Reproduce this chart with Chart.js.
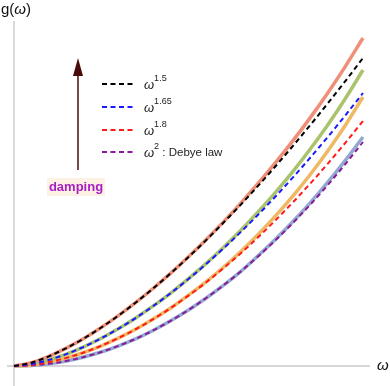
<!DOCTYPE html>
<html>
<head>
<meta charset="utf-8">
<script src="https://cdn.jsdelivr.net/npm/chart.js@4"></script>
<style>
  body { margin: 0; background: #fff; }
  canvas { display: block; }
</style>
</head>
<body>
<canvas id="chart" width="390" height="386"></canvas>
<script>
// frequency grid
const omega = [0, 0.05, 0.1, 0.15, 0.2, 0.25, 0.3, 0.35, 0.4, 0.45, 0.5,
  0.55, 0.6, 0.65, 0.7, 0.75, 0.8, 0.85, 0.9, 0.95, 1];

// solid curves (damped DOS)
const salmonCurve = [0, 0.034, 0.097, 0.179, 0.275, 0.385, 0.506, 0.638, 0.780, 0.931, 1.092,
  1.262, 1.441, 1.629, 1.828, 2.036, 2.256, 2.489, 2.736, 2.999, 3.28];
const greenCurve = [0, 0.020, 0.061, 0.119, 0.192, 0.277, 0.374, 0.483, 0.603, 0.732, 0.874,
  1.024, 1.186, 1.358, 1.542, 1.739, 1.949, 2.175, 2.416, 2.678, 2.96];
const orangeCurve = [0, 0.011, 0.039, 0.081, 0.135, 0.202, 0.281, 0.370, 0.472, 0.583, 0.708,
  0.842, 0.988, 1.146, 1.317, 1.503, 1.703, 1.920, 2.155, 2.410, 2.69];
const greyCurve = [0, 0.006, 0.022, 0.050, 0.090, 0.140, 0.202, 0.274, 0.358, 0.454, 0.560,
  0.678, 0.806, 0.946, 1.104, 1.269, 1.447, 1.637, 1.841, 2.059, 2.29];

// dashed power laws
const pow150 = [0, 0.034, 0.097, 0.179, 0.275, 0.385, 0.506, 0.638, 0.779, 0.930, 1.089,
  1.256, 1.432, 1.614, 1.804, 2.000, 2.204, 2.414, 2.630, 2.852, 3.08];
const pow165 = [0, 0.020, 0.061, 0.119, 0.192, 0.277, 0.374, 0.483, 0.602, 0.731, 0.870,
  1.018, 1.175, 1.341, 1.515, 1.698, 1.889, 2.088, 2.294, 2.509, 2.73];
const pow180 = [0, 0.011, 0.039, 0.081, 0.135, 0.202, 0.281, 0.370, 0.471, 0.582, 0.704,
  0.835, 0.977, 1.128, 1.289, 1.460, 1.640, 1.829, 2.027, 2.234, 2.45];
const pow200 = [0, 0.006, 0.022, 0.050, 0.090, 0.140, 0.202, 0.274, 0.358, 0.454, 0.560,
  0.678, 0.806, 0.946, 1.098, 1.260, 1.434, 1.618, 1.814, 2.022, 2.24];

// legend text
const legendBase = ["ω", "ω", "ω", "ω"];
const legendExp = ["1.5", "1.65", "1.8", "2"];
const legendTail = ["", "", "", " : Debye law"];
const legendColors = ["#000000", "#1a1aff", "#ff1a1a", "#8a1a9a"];

function pts(ys) {
  return ys.map((y, i) => ({ x: omega[i], y: y }));
}

function solid(ys, color) {
  return {
    data: pts(ys), borderColor: color, borderWidth: 3.5,
    pointRadius: 0, cubicInterpolationMode: "monotone", order: 2,
  };
}

function dashed(ys, color) {
  return {
    data: pts(ys), borderColor: color, borderWidth: 2, borderDash: [5, 3.5],
    pointRadius: 0, cubicInterpolationMode: "monotone", order: 1,
  };
}

//Axes, legend, arrow and labels
const decorations = {
  id: "decorations",
  beforeDatasetsDraw(chart) {
    const ctx = chart.ctx;
    const xs = chart.scales.x;
    const ys = chart.scales.y;
    const x0 = xs.getPixelForValue(0);
    const y0 = ys.getPixelForValue(0);
    ctx.save();
    ctx.strokeStyle = "#c8c8c8";
    ctx.lineWidth = 1.5;
    ctx.beginPath();
    ctx.moveTo(7, y0);
    ctx.lineTo(xs.getPixelForValue(1.02), y0);
    ctx.stroke();
    ctx.strokeStyle = "#b4b4b4";
    ctx.lineWidth = 1;
    ctx.beginPath();
    ctx.moveTo(x0, 21);
    ctx.lineTo(x0, 386);
    ctx.stroke();
    ctx.restore();
  },
  afterDatasetsDraw(chart) {
    const ctx = chart.ctx;
    ctx.save();
    // axis labels
    ctx.fillStyle = "#111";
    ctx.textBaseline = "middle";
    ctx.font = "15px 'Liberation Sans', Arial, sans-serif";
    ctx.fillText("g(", 1, 10);
    let w = ctx.measureText("g(").width;
    ctx.font = "italic 15px 'Liberation Sans', Arial, sans-serif";
    ctx.fillText("ω", 1 + w, 10);
    w += ctx.measureText("ω").width;
    ctx.font = "15px 'Liberation Sans', Arial, sans-serif";
    ctx.fillText(")", 1 + w, 10);
    ctx.font = "italic 15px 'Liberation Sans', Arial, sans-serif";
    ctx.fillText("ω", 377, 366);

    // legend
    const rowY = [84, 107, 130, 152];
    for (let i = 0; i < rowY.length; i++) {
      const y = rowY[i];
      ctx.strokeStyle = legendColors[i];
      ctx.lineWidth = 2;
      ctx.setLineDash([5, 3.5]);
      ctx.beginPath();
      ctx.moveTo(102, y);
      ctx.lineTo(136, y);
      ctx.stroke();
      ctx.setLineDash([]);
      ctx.fillStyle = "#222";
      ctx.font = "italic 13px 'Liberation Sans', Arial, sans-serif";
      ctx.fillText(legendBase[i], 144, y + 1);
      let tx = 144 + ctx.measureText(legendBase[i]).width;
      ctx.font = "9px 'Liberation Sans', Arial, sans-serif";
      ctx.fillText(legendExp[i], tx, y - 5);
      tx += ctx.measureText(legendExp[i]).width;
      ctx.font = "11.5px 'Liberation Sans', Arial, sans-serif";
      ctx.fillText(legendTail[i], tx, y + 1);
    }

    // damping arrow
    ctx.strokeStyle = "#4a0a0a";
    ctx.fillStyle = "#4a0a0a";
    ctx.lineWidth = 1.5;
    ctx.beginPath();
    ctx.moveTo(78, 170);
    ctx.lineTo(78, 72);
    ctx.stroke();
    ctx.beginPath();
    ctx.moveTo(78, 58);
    ctx.lineTo(73, 76);
    ctx.lineTo(83, 76);
    ctx.closePath();
    ctx.fill();

    ctx.fillStyle = "#fdf1e4";
    ctx.fillRect(47, 178, 58, 18);
    ctx.fillStyle = "#a81ec4";
    ctx.font = "bold 13px 'Liberation Sans', Arial, sans-serif";
    ctx.textAlign = "center";
    ctx.fillText("damping", 76, 187);
    ctx.restore();
  },
};

new Chart(document.getElementById("chart"), {
  type: "line",
  data: {
    datasets: [
      solid(salmonCurve, "#ef8f78"),
      solid(greenCurve, "#a9c46c"),
      solid(orangeCurve, "#efb964"),
      solid(greyCurve, "#93aad0"),
      dashed(pow150, "#000000"),
      dashed(pow165, "#1a1aff"),
      dashed(pow180, "#ff1a1a"),
      dashed(pow200, "#8a1a9a"),
    ],
  },
  options: {
    responsive: false,
    animation: false,
    devicePixelRatio: 1,
    layout: { padding: 0 },
    plugins: { legend: { display: false }, tooltip: { enabled: false } },
    scales: {
      x: { type: "linear", min: -0.0401, max: 1.0774, display: false },
      y: { type: "linear", min: -0.2, max: 3.66, display: false },
    },
  },
  plugins: [decorations],
});
</script>
</body>
</html>
